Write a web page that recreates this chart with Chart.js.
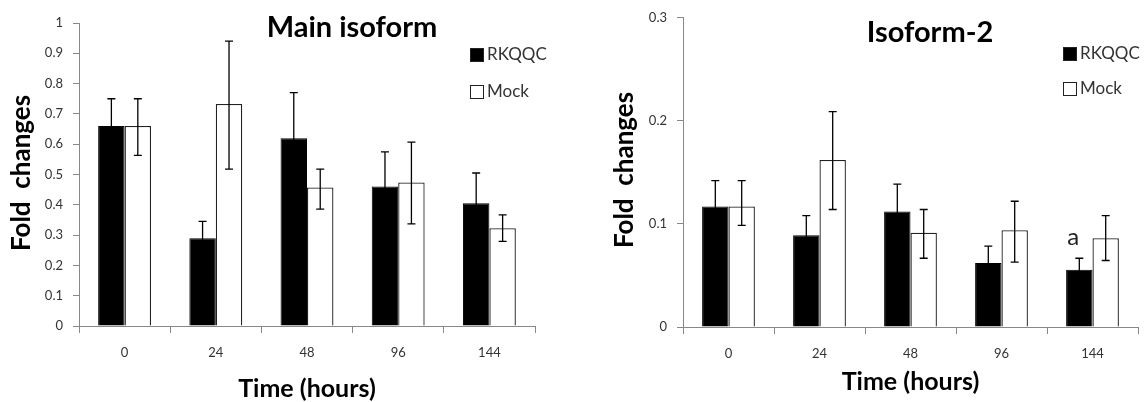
<!DOCTYPE html>
<html>
<head>
<meta charset="utf-8">
<script src="https://cdn.jsdelivr.net/npm/chart.js@4/dist/chart.umd.min.js"></script>
<style>
  html, body { margin:0; padding:0; background:#fff; }
  .wrap { position:absolute; top:0; width:572px; height:402px; }
</style>
</head>
<body>
<div class="wrap" style="left:0"><canvas id="chart-main" width="572" height="402"></canvas></div>
<div class="wrap" style="left:572px"><canvas id="chart-iso2" width="572" height="402"></canvas></div>
<script>
// --- DATA ---
const hours = ['0', '24', '48', '96', '144'];

// Main isoform
const mainRkqqc     = [0.66, 0.29, 0.62, 0.46, 0.405];
const mainRkqqcHigh = [0.75, 0.345, 0.77, 0.575, 0.505];
const mainRkqqcLow  = [0.57, 0.235, 0.47, 0.345, 0.305];
const mainMock      = [0.66, 0.733, 0.457, 0.474, 0.323];
const mainMockHigh  = [0.75, 0.94, 0.518, 0.607, 0.367];
const mainMockLow   = [0.563, 0.518, 0.386, 0.337, 0.279];

// Isoform-2
const iso2Rkqqc     = [0.117, 0.089, 0.112, 0.062, 0.0556];
const iso2RkqqcHigh = [0.142, 0.108, 0.1386, 0.0785, 0.0667];
const iso2RkqqcLow  = [0.092, 0.070, 0.085, 0.0455, 0.0445];
const iso2Mock      = [0.117, 0.162, 0.0915, 0.0938, 0.0862];
const iso2MockHigh  = [0.142, 0.209, 0.114, 0.122, 0.108];
const iso2MockLow   = [0.0986, 0.114, 0.0667, 0.063, 0.0645];

const FONT = 'Lato, "Open Sans", sans-serif';

// error bars, drawn from each bar element + the y scale
const errorBars = {
    id: 'errorBars',
    afterDatasetsDraw(chart) {
        const ctx = chart.ctx, y = chart.scales.y;
        chart.data.datasets.forEach((ds, i) => {
            chart.getDatasetMeta(i).data.forEach((bar, j) => {
                const yh = y.getPixelForValue(ds.errHigh[j]);
                const yl = y.getPixelForValue(ds.errLow[j]);
                ctx.save();
                ctx.strokeStyle = '#000';
                ctx.lineWidth = 1.3;
                ctx.beginPath();
                ctx.moveTo(bar.x, yh); ctx.lineTo(bar.x, yl);
                ctx.moveTo(bar.x - 4, yh); ctx.lineTo(bar.x + 4, yh);
                ctx.moveTo(bar.x - 4, yl); ctx.lineTo(bar.x + 4, yl);
                ctx.stroke();
                ctx.restore();
            });
        });
    }
};

// titles, axis titles, legend boxes and the "a" mark
const decorations = {
    id: 'decorations',
    afterDraw(chart, args, o) {
        const ctx = chart.ctx, area = chart.chartArea;
        ctx.save();
        ctx.fillStyle = '#000';
        ctx.textAlign = 'center';
        ctx.textBaseline = 'alphabetic';
        ctx.font = `bold 29px ${FONT}`;
        ctx.fillText(o.title, o.titleX, o.titleY);

        ctx.font = `bold 25px ${FONT}`;
        ctx.fillText('Time (hours)', (area.left + area.right) / 2, o.xTitleY);

        ctx.save();
        ctx.translate(o.yTitleX, o.yTitleY);
        ctx.rotate(-Math.PI / 2);
        ctx.textBaseline = 'middle';
        ctx.font = `bold 26px ${FONT}`;
        ctx.fillText('Fold  changes', 0, 0);
        ctx.restore();

        // legend
        ctx.textAlign = 'left';
        ctx.textBaseline = 'middle';
        ctx.font = `17px ${FONT}`;
        chart.data.datasets.forEach((ds, i) => {
            const top = o.legendY[i];
            ctx.fillStyle = ds.backgroundColor;
            ctx.fillRect(o.legendX, top, 13, 13);
            ctx.strokeStyle = '#222';
            ctx.lineWidth = 1;
            ctx.strokeRect(o.legendX + 0.5, top + 0.5, 13, 13);
            ctx.fillStyle = '#333';
            ctx.fillText(ds.label, o.legendX + 17, top + 7);
        });

        if (o.mark) {
            const bar = chart.getDatasetMeta(0).data[o.mark.index];
            const yTop = chart.scales.y.getPixelForValue(chart.data.datasets[0].errHigh[o.mark.index]);
            ctx.textAlign = 'center';
            ctx.textBaseline = 'alphabetic';
            ctx.fillStyle = '#222';
            ctx.font = `24px ${FONT}`;
            ctx.fillText(o.mark.text, bar.x - 6, yTop - 13);
        }
        ctx.restore();
    }
};

function makeChart(id, cfg) {
    new Chart(document.getElementById(id), {
        type: 'bar',
        data: {
            labels: hours,
            datasets: [
                { label: 'RKQQC', data: cfg.rkqqc, errHigh: cfg.rkqqcHigh, errLow: cfg.rkqqcLow,
                  backgroundColor: '#000', borderColor: '#000', borderWidth: 1 },
                { label: 'Mock', data: cfg.mock, errHigh: cfg.mockHigh, errLow: cfg.mockLow,
                  backgroundColor: '#fff', borderColor: '#222', borderWidth: 1.3 }
            ]
        },
        options: {
            responsive: false,
            animation: false,
            categoryPercentage: 0.58,
            barPercentage: 1.0,
            layout: { padding: cfg.padding },
            plugins: {
                legend: { display: false },
                tooltip: { enabled: false },
                decorations: cfg.deco
            },
            scales: {
                x: {
                    grid: { drawOnChartArea: false, color: '#888', tickLength: 7 },
                    border: { color: '#888', width: 1 },
                    ticks: { color: '#333', font: { family: FONT, size: 13 }, padding: 12 },
                    afterFit: s => { s.height = cfg.xHeight; }
                },
                y: {
                    min: 0, max: cfg.max,
                    grid: { drawOnChartArea: false, color: '#888', tickLength: 6 },
                    border: { color: '#888', width: 1 },
                    ticks: {
                        stepSize: 0.1, color: '#333', font: { family: FONT, size: 13 }, padding: 10,
                        callback: v => String(Math.round(v * 10) / 10)
                    },
                    afterFit: s => { s.width = cfg.yWidth; }
                }
            }
        },
        plugins: [errorBars, decorations]
    });
}

makeChart('chart-main', {
    rkqqc: mainRkqqc, rkqqcHigh: mainRkqqcHigh, rkqqcLow: mainRkqqcLow,
    mock: mainMock, mockHigh: mainMockHigh, mockLow: mainMockLow,
    max: 1, padding: { left: 0, right: 37, top: 23, bottom: 0 }, yWidth: 79, xHeight: 76,
    deco: { title: 'Main isoform', titleX: 352, titleY: 37, xTitleY: 397, yTitleX: 22, yTitleY: 173,
            legendX: 470, legendY: [48, 85] }
});

makeChart('chart-iso2', {
    rkqqc: iso2Rkqqc, rkqqcHigh: iso2RkqqcHigh, rkqqcLow: iso2RkqqcLow,
    mock: iso2Mock, mockHigh: iso2MockHigh, mockLow: iso2MockLow,
    max: 0.3, padding: { left: 0, right: 6, top: 12, bottom: 0 }, yWidth: 111, xHeight: 75,
    deco: { title: 'Isoform-2', titleX: 358, titleY: 42, xTitleY: 390, yTitleX: 53, yTitleY: 170,
            legendX: 491, legendY: [47, 82], mark: { index: 4, text: 'a' } }
});
</script>
</body>
</html>
